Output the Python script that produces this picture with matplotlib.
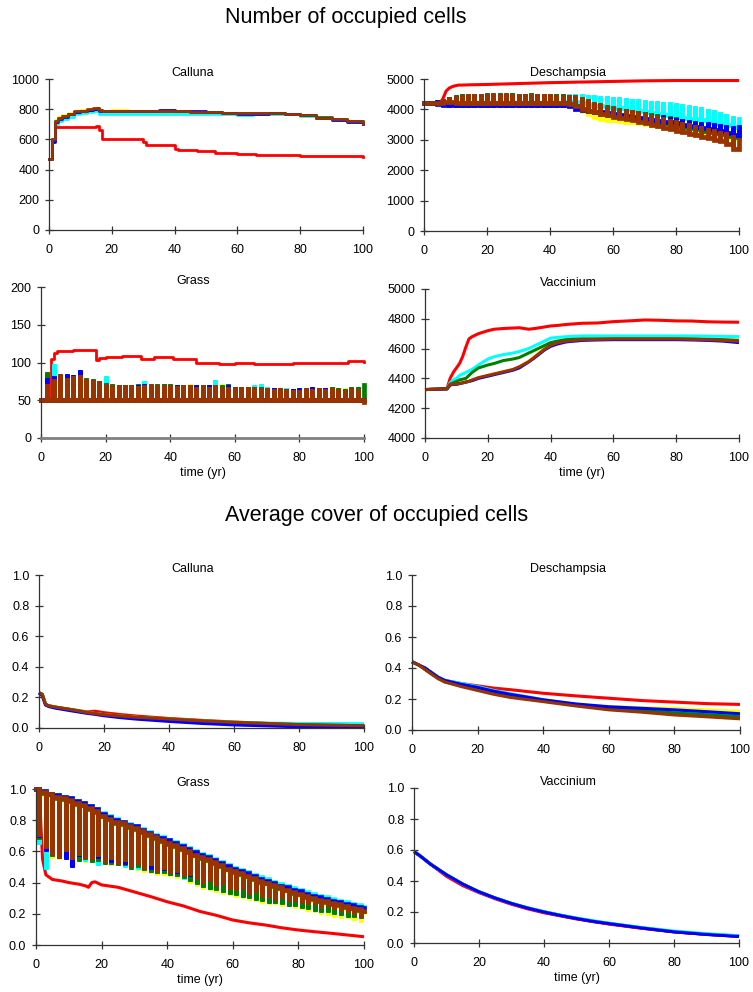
"""Number of occupied cells and average cover per species, six scenarios"""

import numpy as np
import matplotlib.pyplot as plt

plt.rcParams['font.family'] = ['Liberation Sans', 'DejaVu Sans']

W, H = 753, 992

COLORS = {'red': '#ff0000', 'yellow': '#ffff00', 'blue': '#0000ff',
          'cyan': '#00ffff', 'green': '#008000', 'brown': '#993300'}
ORDER = ['red', 'yellow', 'cyan', 'green', 'blue', 'brown']

# -----------------------------------------------------------------------------
# Number of occupied cells

# Calluna
n_calluna_t = [0, 1, 2, 3, 4, 6, 8, 10, 12, 14, 15, 16, 17, 20, 25, 30, 35, 40,
               45, 50, 55, 60, 65, 70, 75, 80, 85, 90, 95, 100]
n_calluna = {
    'brown':  [470, 600, 720, 740, 755, 770, 785, 790, 800, 805, 810, 795, 785, 785, 785,
               785, 788, 785, 782, 780, 778, 775, 775, 775, 770, 762, 745, 735, 720, 705],
    'yellow': [470, 600, 730, 750, 760, 775, 790, 795, 800, 805, 805, 795, 790, 795, 790,
               788, 785, 783, 780, 778, 775, 772, 770, 768, 765, 755, 740, 730, 718, 705],
    'blue':   [470, 580, 715, 735, 750, 765, 780, 788, 795, 800, 800, 790, 785, 785, 788,
               790, 792, 790, 785, 780, 775, 770, 770, 772, 770, 760, 745, 730, 715, 700],
    'cyan':   [470, 590, 700, 720, 735, 750, 765, 775, 780, 785, 790, 770, 765, 765, 768,
               770, 770, 770, 768, 765, 765, 762, 765, 768, 765, 758, 745, 735, 722, 712],
    'green':  [470, 600, 720, 740, 752, 768, 782, 790, 798, 803, 808, 795, 785, 785, 785,
               787, 787, 785, 782, 780, 777, 775, 775, 774, 770, 762, 747, 735, 720, 707],
}
n_calluna_red_t = [0, 1, 2, 3, 15, 16, 17, 30, 31, 40, 41, 47, 53, 60, 66, 72, 80, 90, 100]
n_calluna_red = [470, 600, 680, 685, 690, 660, 605, 585, 565, 535, 530, 520, 512, 505,
                 500, 496, 492, 488, 486]

# Deschampsia: peaks at even years, troughs at odd years
n_desch_peaks = {
    'brown':  [4200, 4200, 4200, 4350, 4400, 4450, 4480, 4500, 4500, 4520, 4520, 4530, 4520,
               4530, 4510, 4520, 4510, 4520, 4510, 4500, 4500, 4480, 4490, 4470, 4450, 4400,
               4330, 4250, 4200, 4150, 4100, 4050, 4000, 3980, 3950, 3900, 3850, 3800, 3750,
               3700, 3650, 3600, 3550, 3500, 3450, 3400, 3350, 3300, 3250, 3150, 3000],
    'cyan':   [4200, 4200, 4200, 4300, 4380, 4450, 4470, 4490, 4500, 4500, 4510, 4500, 4510,
               4500, 4500, 4510, 4500, 4500, 4510, 4500, 4510, 4500, 4500, 4510, 4520, 4500,
               4480, 4460, 4440, 4430, 4420, 4400, 4380, 4350, 4330, 4300, 4290, 4270, 4250,
               4230, 4220, 4180, 4150, 4110, 4080, 4020, 3980, 3900, 3850, 3780, 3700],
    'blue':   [4200, 4200, 4300, 4350, 4400, 4450, 4470, 4480, 4490, 4500, 4500, 4490, 4500,
               4490, 4500, 4490, 4500, 4490, 4500, 4490, 4480, 4480, 4470, 4450, 4350, 4250,
               4200, 4150, 4100, 4060, 4030, 4000, 3980, 3950, 3920, 3900, 3860, 3830, 3800,
               3760, 3720, 3690, 3660, 3630, 3600, 3570, 3540, 3510, 3480, 3450, 3420],
    'yellow': [4200, 4200, 4200, 4300, 4380, 4420, 4450, 4480, 4490, 4500, 4500, 4500, 4490,
               4480, 4490, 4500, 4490, 4480, 4490, 4480, 4470, 4450, 4440, 4400, 4300, 4200,
               4050, 3950, 3850, 3820, 3800, 3780, 3750, 3720, 3700, 3670, 3640, 3610, 3580,
               3550, 3520, 3480, 3440, 3400, 3360, 3320, 3280, 3240, 3200, 3160, 3100],
    'green':  [4200, 4200, 4250, 4350, 4420, 4480, 4500, 4510, 4520, 4520, 4530, 4520, 4530,
               4520, 4530, 4520, 4520, 4530, 4520, 4510, 4510, 4500, 4500, 4490, 4460, 4400,
               4300, 4220, 4150, 4100, 4060, 4030, 4000, 3970, 3940, 3910, 3880, 3850, 3810,
               3780, 3740, 3700, 3660, 3620, 3580, 3540, 3500, 3460, 3420, 3380, 3340],
}
n_desch_troughs = {
    'brown':  [4200, 4200, 4200, 4250, 4250, 4200, 4220, 4200, 4220, 4200, 4210, 4200, 4220,
               4200, 4210, 4200, 4210, 4200, 4210, 4200, 4200, 4200, 4200, 4180, 4100, 4000,
               3950, 3900, 3850, 3800, 3750, 3720, 3680, 3650, 3600, 3560, 3500, 3450, 3400,
               3350, 3300, 3250, 3200, 3150, 3100, 3050, 3000, 2950, 2850, 2700],
    'cyan':   [4200, 4200, 4200, 4200, 4200, 4200, 4200, 4200, 4200, 4200, 4220, 4210, 4220,
               4210, 4220, 4210, 4220, 4210, 4220, 4210, 4230, 4220, 4230, 4250, 4240, 4200,
               4150, 4120, 4100, 4080, 4060, 4030, 4000, 3970, 3940, 3910, 3880, 3850, 3800,
               3770, 3750, 3720, 3700, 3680, 3640, 3600, 3560, 3520, 3480, 3430],
    'blue':   [4200, 4200, 4180, 4150, 4150, 4150, 4150, 4150, 4150, 4150, 4150, 4150, 4150,
               4150, 4150, 4150, 4150, 4150, 4150, 4150, 4150, 4150, 4150, 4100, 4000, 3980,
               3960, 3930, 3900, 3870, 3840, 3810, 3780, 3750, 3720, 3690, 3660, 3630, 3600,
               3570, 3540, 3500, 3470, 3430, 3400, 3360, 3320, 3280, 3240, 3160],
    'yellow': [4200, 4200, 4200, 4200, 4200, 4200, 4200, 4200, 4200, 4200, 4200, 4200, 4200,
               4200, 4200, 4200, 4200, 4200, 4200, 4200, 4200, 4200, 4200, 4150, 4050, 3950,
               3850, 3750, 3700, 3660, 3640, 3620, 3600, 3570, 3540, 3510, 3480, 3450, 3420,
               3390, 3350, 3310, 3270, 3230, 3190, 3150, 3120, 3090, 3060, 3030],
    'green':  [4200, 4200, 4200, 4200, 4200, 4200, 4200, 4200, 4200, 4200, 4200, 4200, 4200,
               4200, 4200, 4200, 4200, 4200, 4200, 4200, 4200, 4200, 4200, 4180, 4100, 4000,
               3940, 3900, 3860, 3820, 3780, 3750, 3720, 3690, 3660, 3630, 3600, 3570, 3540,
               3500, 3460, 3420, 3380, 3340, 3300, 3260, 3220, 3180, 3140, 3100],
}
n_desch_red_t = [0, 5, 6, 7, 8, 9, 10, 11, 12, 15, 20, 30, 40, 50, 60, 70, 80, 90, 100]
n_desch_red = [4200, 4200, 4350, 4600, 4700, 4750, 4780, 4800, 4800, 4810, 4820, 4850,
               4880, 4900, 4920, 4940, 4950, 4950, 4950]

# Grass: peaks at even years, all troughs on the floor of 50 cells
n_grass_peaks = {
    'brown':  [50, 72, 78, 85, 80, 82, 83, 78, 77, 75, 72, 70, 70, 70, 70, 69, 70, 72, 70,
               70, 70, 69, 70, 70, 68, 70, 68, 70, 67, 68, 68, 67, 68, 67, 66, 66, 65, 66,
               65, 64, 64, 66, 65, 66, 65, 66, 65, 64, 66, 65, 48],
    'cyan':   [50, 78, 98, 80, 80, 78, 80, 76, 75, 74, 82, 70, 70, 70, 70, 70, 75, 72, 70,
               72, 70, 70, 70, 70, 70, 68, 70, 77, 68, 68, 68, 68, 66, 70, 72, 67, 66, 66,
               66, 65, 65, 66, 65, 66, 65, 66, 66, 65, 65, 65, 50],
    'blue':   [50, 80, 82, 80, 85, 84, 90, 76, 75, 74, 72, 70, 70, 70, 70, 70, 72, 70, 70,
               70, 70, 70, 70, 70, 70, 70, 70, 70, 68, 70, 68, 67, 66, 66, 66, 65, 66, 64,
               65, 65, 66, 65, 67, 66, 66, 65, 64, 64, 66, 64, 50],
    'green':  [50, 88, 80, 84, 82, 82, 80, 80, 78, 76, 73, 71, 70, 70, 70, 71, 70, 70, 72,
               72, 71, 70, 70, 70, 70, 70, 70, 69, 70, 72, 68, 68, 68, 67, 67, 66, 66, 66,
               65, 65, 65, 66, 65, 66, 66, 67, 66, 65, 67, 68, 70],
    'yellow': [50, 84, 84, 82, 80, 84, 82, 78, 76, 74, 72, 70, 70, 70, 70, 70, 70, 70, 70,
               70, 70, 70, 70, 72, 70, 70, 70, 70, 72, 70, 68, 67, 67, 66, 66, 66, 66, 66,
               65, 65, 65, 66, 65, 66, 65, 67, 66, 66, 66, 68, 50],
}
n_grass_trough = [50] * 50
n_grass_red_t = [0, 2, 3, 4, 5, 10, 13, 16, 17, 18, 20, 25, 27, 30, 31, 35, 40, 41, 47,
                 48, 55, 60, 66, 70, 78, 85, 90, 95, 100]
n_grass_red = [50, 50, 105, 113, 115, 116, 117, 117, 103, 106, 107, 108, 109, 109, 105,
               107, 107, 104, 104, 99, 98, 99, 98, 98, 99, 100, 100, 102, 101]

# Vaccinium
n_vacc_t = [0, 7, 8, 9, 10, 11, 12, 13, 14, 15, 17, 20, 22, 25, 28, 30, 33, 35, 38, 40,
            42, 45, 50, 55, 60, 65, 70, 75, 80, 85, 90, 95, 100]
n_vacc = {
    'red':    [4325, 4330, 4400, 4440, 4470, 4500, 4547, 4610, 4665, 4680, 4700, 4720,
               4730, 4735, 4738, 4740, 4730, 4735, 4745, 4752, 4755, 4762, 4770, 4772,
               4781, 4786, 4792, 4790, 4786, 4785, 4780, 4778, 4777],
    'yellow': [4325, 4330, 4360, 4362, 4365, 4368, 4372, 4376, 4382, 4386, 4402, 4418,
               4428, 4442, 4458, 4475, 4515, 4548, 4600, 4625, 4640, 4652, 4660, 4662,
               4665, 4665, 4665, 4665, 4665, 4663, 4660, 4658, 4655],
    'cyan':   [4325, 4330, 4370, 4390, 4400, 4420, 4430, 4440, 4450, 4460, 4490, 4530,
               4545, 4560, 4570, 4580, 4600, 4620, 4650, 4670, 4675, 4680, 4685, 4685,
               4685, 4685, 4685, 4685, 4685, 4685, 4683, 4682, 4680],
    'green':  [4325, 4330, 4360, 4370, 4380, 4390, 4395, 4400, 4420, 4440, 4470, 4490,
               4500, 4520, 4530, 4540, 4570, 4590, 4620, 4640, 4650, 4660, 4665, 4665,
               4665, 4665, 4665, 4665, 4665, 4665, 4662, 4660, 4655],
    'blue':   [4325, 4330, 4355, 4360, 4360, 4365, 4370, 4375, 4380, 4385, 4400, 4415,
               4425, 4440, 4455, 4470, 4510, 4540, 4590, 4615, 4630, 4645, 4655, 4658,
               4660, 4660, 4660, 4660, 4660, 4658, 4655, 4650, 4640],
    'brown':  [4325, 4330, 4360, 4362, 4362, 4366, 4370, 4375, 4380, 4390, 4405, 4420,
               4430, 4445, 4460, 4478, 4512, 4545, 4595, 4622, 4638, 4650, 4660, 4662,
               4665, 4665, 4665, 4665, 4665, 4662, 4660, 4655, 4650],
}

# -----------------------------------------------------------------------------
# Average cover of occupied cells

c_calluna_t = [0, 1, 2, 3, 5, 10, 15, 17, 20, 25, 30, 40, 50, 60, 70, 80, 90, 100]
c_calluna = {
    'red':    [0.23, 0.22, 0.155, 0.145, 0.137, 0.12, 0.105, 0.11, 0.10, 0.088, 0.078,
               0.062, 0.05, 0.039, 0.03, 0.023, 0.018, 0.015],
    'yellow': [0.23, 0.22, 0.155, 0.145, 0.137, 0.12, 0.10, 0.095, 0.087, 0.078, 0.07,
               0.058, 0.046, 0.036, 0.028, 0.021, 0.017, 0.014],
    'cyan':   [0.23, 0.22, 0.155, 0.145, 0.135, 0.118, 0.10, 0.095, 0.086, 0.077, 0.069,
               0.057, 0.047, 0.038, 0.032, 0.03, 0.029, 0.028],
    'green':  [0.23, 0.22, 0.155, 0.145, 0.136, 0.12, 0.10, 0.094, 0.086, 0.077, 0.069,
               0.058, 0.046, 0.036, 0.029, 0.022, 0.018, 0.015],
    'blue':   [0.23, 0.21, 0.15, 0.14, 0.13, 0.112, 0.095, 0.09, 0.08, 0.068, 0.058,
               0.043, 0.03, 0.02, 0.014, 0.008, 0.006, 0.005],
    'brown':  [0.23, 0.22, 0.155, 0.145, 0.137, 0.12, 0.10, 0.095, 0.087, 0.078, 0.07,
               0.059, 0.047, 0.037, 0.03, 0.022, 0.018, 0.015],
}

c_desch_t = [0, 2, 4, 6, 8, 10, 15, 20, 25, 30, 40, 50, 60, 70, 80, 90, 100]
c_desch = {
    'red':    [0.44, 0.42, 0.40, 0.37, 0.34, 0.32, 0.30, 0.285, 0.27, 0.26, 0.237, 0.22,
               0.205, 0.19, 0.18, 0.17, 0.165],
    'yellow': [0.44, 0.42, 0.40, 0.37, 0.34, 0.32, 0.295, 0.275, 0.25, 0.23, 0.19, 0.165,
               0.152, 0.145, 0.14, 0.13, 0.12],
    'cyan':   [0.44, 0.42, 0.40, 0.37, 0.34, 0.32, 0.30, 0.28, 0.255, 0.235, 0.195, 0.165,
               0.145, 0.13, 0.12, 0.105, 0.095],
    'green':  [0.44, 0.42, 0.39, 0.36, 0.335, 0.31, 0.285, 0.26, 0.235, 0.215, 0.188, 0.16,
               0.14, 0.125, 0.11, 0.098, 0.085],
    'blue':   [0.44, 0.42, 0.40, 0.37, 0.34, 0.32, 0.295, 0.275, 0.25, 0.23, 0.195, 0.168,
               0.15, 0.14, 0.13, 0.118, 0.105],
    'brown':  [0.44, 0.42, 0.39, 0.36, 0.33, 0.31, 0.28, 0.255, 0.23, 0.21, 0.183, 0.155,
               0.13, 0.115, 0.097, 0.085, 0.072],
}

# Grass: peaks at even years, troughs at odd years
c_grass_peaks = {
    'yellow': [1.00, 0.97, 0.96, 0.94, 0.93, 0.92, 0.90, 0.89, 0.87, 0.85, 0.82, 0.80, 0.78,
               0.77, 0.75, 0.74, 0.72, 0.70, 0.68, 0.66, 0.645, 0.63, 0.61, 0.59, 0.57,
               0.555, 0.54, 0.52, 0.50, 0.48, 0.465, 0.45, 0.435, 0.42, 0.40, 0.39, 0.375,
               0.36, 0.345, 0.33, 0.32, 0.305, 0.29, 0.28, 0.27, 0.26, 0.25, 0.24, 0.23,
               0.22, 0.21],
    'cyan':   [1.00, 0.99, 0.97, 0.96, 0.95, 0.94, 0.92, 0.91, 0.89, 0.87, 0.845, 0.825,
               0.805, 0.79, 0.775, 0.76, 0.745, 0.725, 0.705, 0.69, 0.675, 0.66, 0.64, 0.62,
               0.60, 0.585, 0.57, 0.55, 0.53, 0.51, 0.495, 0.48, 0.465, 0.45, 0.435, 0.42,
               0.405, 0.39, 0.38, 0.365, 0.355, 0.34, 0.325, 0.315, 0.305, 0.295, 0.285,
               0.275, 0.265, 0.255, 0.245],
    'green':  [1.00, 0.975, 0.965, 0.945, 0.935, 0.925, 0.905, 0.895, 0.875, 0.855, 0.825,
               0.805, 0.785, 0.775, 0.755, 0.745, 0.725, 0.705, 0.685, 0.665, 0.65, 0.635,
               0.615, 0.595, 0.575, 0.56, 0.545, 0.525, 0.505, 0.485, 0.47, 0.455, 0.44,
               0.425, 0.405, 0.395, 0.38, 0.365, 0.35, 0.335, 0.325, 0.31, 0.295, 0.285,
               0.275, 0.265, 0.255, 0.245, 0.235, 0.225, 0.215],
    'blue':   [1.00, 0.99, 0.97, 0.96, 0.95, 0.94, 0.92, 0.91, 0.89, 0.87, 0.84, 0.82, 0.80,
               0.79, 0.77, 0.76, 0.74, 0.72, 0.70, 0.685, 0.67, 0.655, 0.635, 0.615, 0.595,
               0.58, 0.565, 0.545, 0.525, 0.505, 0.49, 0.475, 0.46, 0.445, 0.425, 0.41,
               0.395, 0.38, 0.37, 0.355, 0.345, 0.33, 0.315, 0.305, 0.295, 0.285, 0.275,
               0.265, 0.255, 0.245, 0.235],
    'brown':  [1.00, 0.98, 0.97, 0.95, 0.94, 0.93, 0.91, 0.90, 0.88, 0.86, 0.83, 0.81, 0.79,
               0.78, 0.76, 0.75, 0.73, 0.71, 0.69, 0.67, 0.655, 0.64, 0.62, 0.60, 0.58,
               0.565, 0.55, 0.53, 0.51, 0.49, 0.475, 0.46, 0.445, 0.43, 0.41, 0.40, 0.385,
               0.37, 0.355, 0.34, 0.33, 0.315, 0.30, 0.29, 0.28, 0.27, 0.26, 0.25, 0.24,
               0.23, 0.22],
}
c_grass_troughs = {
    'yellow': [0.66, 0.60, 0.56, 0.55, 0.56, 0.54, 0.55, 0.53, 0.54, 0.52, 0.53, 0.51, 0.52,
               0.50, 0.50, 0.48, 0.47, 0.46, 0.45, 0.45, 0.44, 0.43, 0.42, 0.40, 0.38, 0.36,
               0.35, 0.34, 0.33, 0.32, 0.31, 0.30, 0.29, 0.28, 0.27, 0.26, 0.26, 0.25, 0.25,
               0.24, 0.23, 0.22, 0.21, 0.20, 0.19, 0.18, 0.17, 0.17, 0.16, 0.15],
    'cyan':   [0.65, 0.49, 0.58, 0.56, 0.55, 0.57, 0.55, 0.54, 0.53, 0.51, 0.53, 0.52, 0.51,
               0.50, 0.50, 0.49, 0.48, 0.47, 0.46, 0.46, 0.45, 0.44, 0.42, 0.41, 0.40, 0.38,
               0.36, 0.35, 0.34, 0.33, 0.33, 0.32, 0.31, 0.31, 0.30, 0.29, 0.28, 0.28, 0.27,
               0.27, 0.26, 0.25, 0.25, 0.24, 0.23, 0.23, 0.22, 0.21, 0.21, 0.20],
    'green':  [0.68, 0.61, 0.57, 0.56, 0.57, 0.55, 0.54, 0.55, 0.53, 0.54, 0.52, 0.52, 0.51,
               0.51, 0.49, 0.50, 0.48, 0.47, 0.46, 0.46, 0.45, 0.44, 0.43, 0.41, 0.39, 0.37,
               0.36, 0.35, 0.34, 0.33, 0.32, 0.31, 0.30, 0.29, 0.28, 0.27, 0.27, 0.26, 0.25,
               0.25, 0.24, 0.23, 0.22, 0.21, 0.21, 0.20, 0.19, 0.18, 0.18, 0.17],
    'blue':   [0.69, 0.60, 0.62, 0.58, 0.55, 0.50, 0.57, 0.60, 0.55, 0.56, 0.54, 0.53, 0.55,
               0.52, 0.51, 0.52, 0.50, 0.49, 0.49, 0.48, 0.47, 0.46, 0.45, 0.44, 0.43, 0.42,
               0.41, 0.40, 0.39, 0.38, 0.37, 0.36, 0.35, 0.34, 0.33, 0.32, 0.31, 0.30, 0.29,
               0.29, 0.28, 0.27, 0.26, 0.26, 0.25, 0.24, 0.23, 0.22, 0.21, 0.20],
    'brown':  [0.70, 0.62, 0.58, 0.56, 0.60, 0.55, 0.58, 0.56, 0.55, 0.57, 0.53, 0.55, 0.52,
               0.54, 0.50, 0.52, 0.49, 0.51, 0.47, 0.49, 0.46, 0.47, 0.44, 0.45, 0.42, 0.40,
               0.41, 0.38, 0.39, 0.36, 0.35, 0.36, 0.33, 0.34, 0.31, 0.31, 0.29, 0.30, 0.28,
               0.28, 0.27, 0.26, 0.26, 0.24, 0.25, 0.23, 0.22, 0.21, 0.20, 0.18],
}
c_grass_red_t = [0, 1, 2, 3, 5, 8, 10, 13, 15, 16, 17, 18, 20, 25, 30, 35, 40, 45, 50, 55,
                 60, 65, 70, 75, 80, 85, 90, 95, 100]
c_grass_red = [1.0, 0.98, 0.55, 0.45, 0.42, 0.41, 0.40, 0.39, 0.38, 0.37, 0.40, 0.405,
               0.385, 0.37, 0.34, 0.31, 0.277, 0.25, 0.215, 0.19, 0.16, 0.142, 0.128,
               0.11, 0.096, 0.085, 0.075, 0.064, 0.053]

c_vacc_t = [0, 2, 5, 10, 15, 20, 25, 30, 35, 40, 45, 50, 55, 60, 70, 80, 90, 100]
c_vacc = {
    'yellow': [0.59, 0.56, 0.51, 0.44, 0.38, 0.33, 0.29, 0.255, 0.225, 0.20, 0.178, 0.158,
               0.14, 0.125, 0.097, 0.073, 0.056, 0.043],
    'green':  [0.59, 0.56, 0.51, 0.44, 0.38, 0.33, 0.29, 0.255, 0.226, 0.201, 0.179, 0.159,
               0.141, 0.126, 0.098, 0.073, 0.057, 0.044],
    'brown':  [0.59, 0.56, 0.51, 0.44, 0.38, 0.33, 0.29, 0.255, 0.225, 0.20, 0.178, 0.158,
               0.14, 0.125, 0.097, 0.072, 0.056, 0.043],
    'red':    [0.59, 0.56, 0.51, 0.43, 0.37, 0.325, 0.285, 0.25, 0.22, 0.195, 0.175, 0.155,
               0.138, 0.122, 0.095, 0.072, 0.056, 0.044],
    'cyan':   [0.59, 0.56, 0.51, 0.44, 0.38, 0.33, 0.29, 0.256, 0.227, 0.202, 0.18, 0.161,
               0.144, 0.128, 0.10, 0.077, 0.06, 0.047],
    'blue':   [0.59, 0.56, 0.51, 0.44, 0.38, 0.33, 0.29, 0.255, 0.225, 0.20, 0.178, 0.158,
               0.14, 0.125, 0.097, 0.072, 0.055, 0.042],
}

# -----------------------------------------------------------------------------

def px_axes(fig, x0, top, x1, bottom):
    """Add an axes given its pixel box (y measured from the top)"""
    return fig.add_axes([x0 / W, 1 - bottom / H, (x1 - x0) / W, (bottom - top) / H])


def comb_down(peaks, troughs):
    """Line held at the yearly peaks with a short dip to each trough (odd years)"""
    xs, ys = [0], [peaks[0]]
    for j, d in enumerate(troughs):
        x = 2 * j + 1
        xs += [x, x, x]
        ys += [peaks[j], d, peaks[j + 1]]
    xs.append(2 * len(troughs))
    ys.append(peaks[-1])
    return np.array(xs), np.array(ys)


def comb_up(peaks, troughs):
    """Line held at the troughs with a short spike to each peak (even years)"""
    level = [peaks[0]] + list(troughs) + [peaks[-1]]
    xs, ys = [], []
    for i, p in enumerate(peaks):
        x = 2 * i
        xs += [x, x, x]
        ys += [level[i], p, level[i + 1]]
    return np.array(xs), np.array(ys)


def draw(ax, series, order=ORDER):
    for name in order:
        if name not in series:
            continue
        t, v, kw = series[name]
        ax.plot(t, v, color=COLORS[name], clip_on=False, **kw)


def style(ax, ylim, yticks, yfmt):
    ax.set_xlim(0, 100)
    ax.set_ylim(*ylim)
    ax.set_xticks(range(0, 101, 20))
    ax.set_yticks(yticks)
    ax.set_yticklabels([yfmt.format(v) for v in yticks])
    for s in ('top', 'right'):
        ax.spines[s].set_visible(False)
    for s in ('left', 'bottom'):
        ax.spines[s].set_color('#333333')
        ax.spines[s].set_linewidth(0.9)
    ax.tick_params(direction='inout', length=6, width=0.9, color='#333333',
                   labelsize=9, labelcolor='black')
    ax.tick_params(axis='x', pad=7)
    ax.tick_params(axis='y', pad=4)


def panel(fig, box, series, ylim, yticks, yfmt, title, title_x,
          xlabel=False, order=ORDER):
    x0, top, x1, bottom = box
    ax = px_axes(fig, *box)
    draw(ax, series, order)
    style(ax, ylim, yticks, yfmt)
    fig.text(title_x / W, 1 - (top - 6) / H, title, ha='center', va='center',
             fontsize=9)
    if xlabel:
        fig.text((x0 + x1) / 2 / W, 1 - (bottom + 35) / H, 'time (yr)',
                 ha='center', va='center', fontsize=9)
    return ax


STEP = dict(lw=2.0, drawstyle='steps-post')
SMOOTH = dict(lw=2.2, solid_capstyle='butt')
SPIKE = dict(lw=3.4, solid_joinstyle='miter')
DIP = dict(lw=3.3, solid_joinstyle='miter')

fig = plt.figure(figsize=(W / 100, H / 100), dpi=100)

fig.text(225 / W, 1 - 18 / H, 'Number of occupied cells', ha='left',
         va='center', fontsize=15.5)
fig.text(225 / W, 1 - 515 / H, 'Average cover of occupied cells', ha='left',
         va='center', fontsize=15.5)

LEFT_T, RIGHT_T = 193, 568

# -- Number of occupied cells
s = {k: (n_calluna_t, v, STEP) for k, v in n_calluna.items()}
s['red'] = (n_calluna_red_t, n_calluna_red, STEP)
panel(fig, (49, 79, 363, 230), s, (0, 1000), range(0, 1001, 200), '{:d}',
      'Calluna', LEFT_T)

s = {k: (*comb_up(n_desch_peaks[k], n_desch_troughs[k]), SPIKE) for k in n_desch_peaks}
s['red'] = (n_desch_red_t, n_desch_red, SMOOTH)
panel(fig, (424, 79, 739, 231), s, (0, 5000), range(0, 5001, 1000), '{:d}',
      'Deschampsia', RIGHT_T)

s = {k: (*comb_up(v, n_grass_trough), SPIKE) for k, v in n_grass_peaks.items()}
s['red'] = (n_grass_red_t, n_grass_red, STEP)
ax = panel(fig, (41, 287, 364, 438), s, (0, 200), range(0, 201, 50), '{:d}',
           'Grass', LEFT_T, xlabel=True)
ax.spines['bottom'].set_color('#808080')
ax.spines['bottom'].set_linewidth(2)

s = {k: (n_vacc_t, v, SMOOTH) for k, v in n_vacc.items()}
panel(fig, (425, 289, 739, 438), s, (4000, 5000), range(4000, 5001, 200), '{:d}',
      'Vaccinium', RIGHT_T, xlabel=True)

# -- Average cover of occupied cells
cover_ticks = [0.0, 0.2, 0.4, 0.6, 0.8, 1.0]

s = {k: (c_calluna_t, v, SMOOTH) for k, v in c_calluna.items()}
panel(fig, (39, 575, 364, 728), s, (0, 1), cover_ticks, '{:.1f}',
      'Calluna', LEFT_T)

s = {k: (c_desch_t, v, SMOOTH) for k, v in c_desch.items()}
panel(fig, (412, 575, 740, 730), s, (0, 1), cover_ticks, '{:.1f}',
      'Deschampsia', RIGHT_T)

s = {k: (*comb_down(c_grass_peaks[k], c_grass_troughs[k]), DIP) for k in c_grass_peaks}
s['red'] = (c_grass_red_t, c_grass_red, SMOOTH)
panel(fig, (36, 789, 364, 945), s, (0, 1), cover_ticks, '{:.1f}',
      'Grass', LEFT_T, xlabel=True)

s = {k: (c_vacc_t, v, SMOOTH) for k, v in c_vacc.items()}
panel(fig, (414, 788, 739, 943), s, (0, 1), cover_ticks, '{:.1f}',
      'Vaccinium', RIGHT_T, xlabel=True,
      order=['yellow', 'green', 'brown', 'red', 'cyan', 'blue'])

fig.savefig('out.png', dpi=100)
plt.close(fig)
